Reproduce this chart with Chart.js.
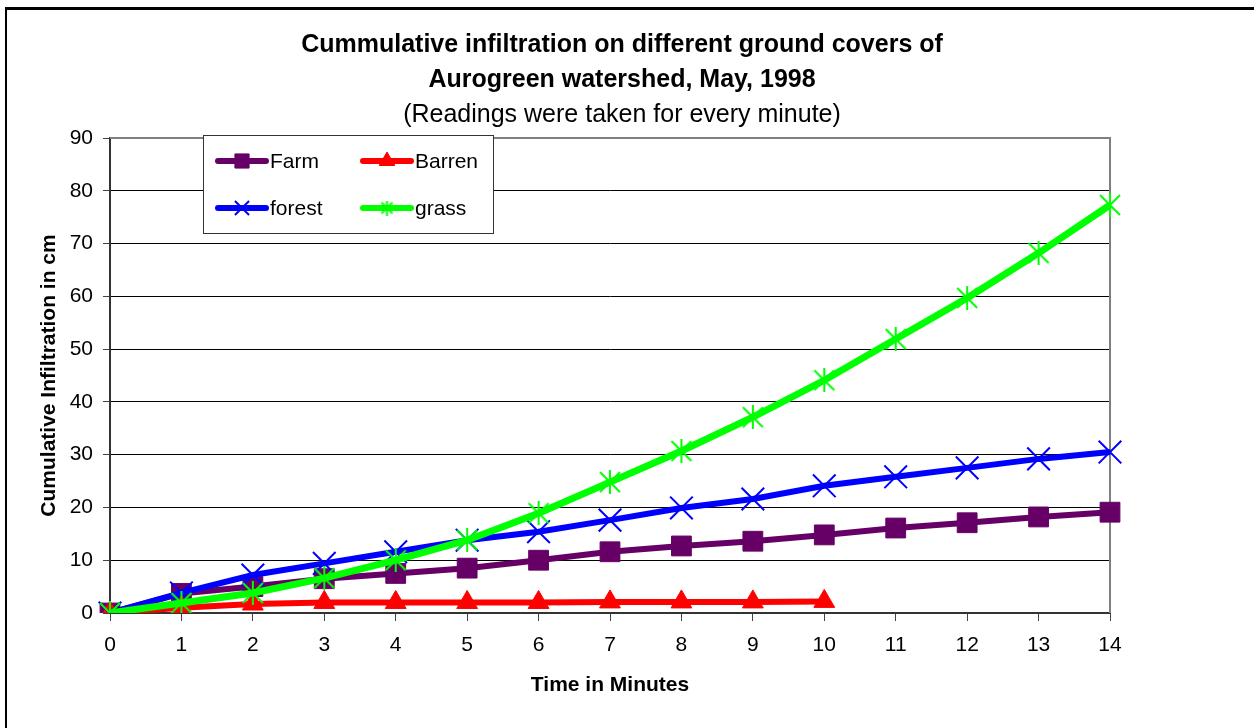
<!DOCTYPE html>
<html>
<head>
<meta charset="utf-8">
<script src="https://cdn.jsdelivr.net/npm/chart.js@4/dist/chart.umd.min.js"></script>
<style>
  html, body { margin: 0; padding: 0; background: #ffffff; }
  #wrap { width: 1254px; height: 728px; }
</style>
</head>
<body>
<div id="wrap"><canvas id="c" width="1254" height="728"></canvas></div>
<script>
// ---- data ----
const minutes = ['0','1','2','3','4','5','6','7','8','9','10','11','12','13','14'];
const farm   = [0, 3.7, 5.0, 6.5, 7.5, 8.5, 10.0, 11.6, 12.7, 13.6, 14.8, 16.1, 17.1, 18.2, 19.1];
const barren = [0, 1.0, 1.7, 2.0, 2.0, 2.0, 2.0, 2.1, 2.1, 2.1, 2.2];
const forest = [0, 3.8, 7.2, 9.4, 11.6, 13.8, 15.4, 17.6, 19.9, 21.6, 24.1, 25.8, 27.5, 29.2, 30.5];
const grass  = [0, 1.9, 3.8, 6.6, 10.0, 13.8, 18.9, 24.8, 30.7, 37.1, 44.1, 51.9, 59.7, 68.2, 77.3];
const seriesNames = ['Farm', 'Barren', 'forest', 'grass'];
const titleLines = ['Cummulative infiltration on different ground covers of', 'Aurogreen watershed, May, 1998'];
const subtitleText = '(Readings were taken for every minute)';
const xTitle = 'Time in Minutes';
const yTitle = 'Cumulative Infiltration in cm';

const FONT = "'Liberation Sans', Arial, Helvetica, sans-serif";

function makeAsterisk(size, color, lw) {
  const c = document.createElement('canvas');
  c.width = size; c.height = size;
  const g = c.getContext('2d');
  g.strokeStyle = color; g.lineWidth = lw; g.lineCap = 'butt';
  const m = 2;
  g.beginPath();
  g.moveTo(m, m); g.lineTo(size - m, size - m);
  g.moveTo(size - m, m); g.lineTo(m, size - m);
  g.moveTo(size / 2, 0); g.lineTo(size / 2, size);
  g.stroke();
  return c;
}
const starBig = makeAsterisk(24, '#00ff00', 2);
const starSmall = makeAsterisk(15, '#00ff00', 2);

const frameAndTitle = {
  id: 'frameAndTitle',
  beforeDraw(chart) {
    const ctx = chart.ctx;
    ctx.save();
    ctx.fillStyle = '#ffffff';
    ctx.fillRect(0, 0, chart.width, chart.height);
    ctx.strokeStyle = '#000000';
    ctx.lineWidth = 3;
    ctx.beginPath(); ctx.moveTo(5, 8.5); ctx.lineTo(chart.width, 8.5); ctx.stroke();
    ctx.lineWidth = 2;
    ctx.beginPath(); ctx.moveTo(6, 8); ctx.lineTo(6, chart.height); ctx.stroke();
    ctx.fillStyle = '#000000';
    ctx.textAlign = 'center';
    ctx.textBaseline = 'middle';
    ctx.font = 'bold 25px ' + FONT;
    ctx.fillText(titleLines[0], 622, 45);
    ctx.fillText(titleLines[1], 622, 80);
    ctx.font = '25px ' + FONT;
    ctx.fillText(subtitleText, 622, 115);
    ctx.restore();
  },
  beforeDatasetsDraw(chart) {
    const a = chart.chartArea, ctx = chart.ctx;
    ctx.save();
    ctx.strokeStyle = '#808080';
    ctx.lineWidth = 2;
    ctx.beginPath();
    ctx.moveTo(a.left, a.top); ctx.lineTo(a.right, a.top); ctx.lineTo(a.right, a.bottom);
    ctx.stroke();
    ctx.restore();
  }
};

const boxLegend = {
  id: 'boxLegend',
  afterDraw(chart) {
    const ctx = chart.ctx;
    ctx.save();
    ctx.fillStyle = '#ffffff';
    ctx.fillRect(203, 135, 290, 98);
    ctx.strokeStyle = '#333333';
    ctx.lineWidth = 1;
    ctx.strokeRect(203.5, 135.5, 290, 98);
    const spots = [[218, 161], [363, 161], [218, 208], [363, 208]];
    const markers = [
      {pointStyle: 'rect', radius: 10, borderWidth: 1},
      {pointStyle: 'triangle', radius: 9, borderWidth: 1},
      {pointStyle: 'crossRot', radius: 10, borderWidth: 2},
      {pointStyle: starSmall, radius: 8, borderWidth: 0}
    ];
    chart.data.datasets.forEach((ds, i) => {
      const [x, y] = spots[i];
      ctx.strokeStyle = ds.borderColor;
      ctx.fillStyle = ds.borderColor;
      ctx.lineWidth = 6;
      ctx.lineCap = 'round';
      ctx.beginPath(); ctx.moveTo(x, y); ctx.lineTo(x + 48, y); ctx.stroke();
      ctx.lineCap = 'butt';
      const m = markers[i];
      ctx.lineWidth = m.borderWidth;
      Chart.helpers.drawPoint(ctx, {pointStyle: m.pointStyle, radius: m.radius, rotation: 0, borderWidth: m.borderWidth}, x + 24, y);
      ctx.fillStyle = '#000000';
      ctx.font = '21px ' + FONT;
      ctx.textAlign = 'left';
      ctx.textBaseline = 'middle';
      ctx.fillText(ds.label, x + 52, y + 1);
    });
    ctx.restore();
  }
};

new Chart(document.getElementById('c'), {
  type: 'line',
  data: {
    labels: minutes,
    datasets: [
      { label: seriesNames[0], data: farm, borderColor: '#660066', backgroundColor: '#660066',
        borderWidth: 6, pointStyle: 'rect', pointRadius: 14, pointBorderWidth: 1, order: 3 },
      { label: seriesNames[1], data: barren, borderColor: '#ff0000', backgroundColor: '#ff0000',
        borderWidth: 6, pointStyle: 'triangle', pointRadius: 12, pointBorderWidth: 1, order: 2 },
      { label: seriesNames[2], data: forest, borderColor: '#0000ff', backgroundColor: '#0000ff',
        borderWidth: 6, pointStyle: 'crossRot', pointRadius: 16, pointBorderWidth: 2, order: 1 },
      { label: seriesNames[3], data: grass, borderColor: '#00ff00', backgroundColor: '#00ff00',
        borderWidth: 7, pointStyle: starBig, pointRadius: 12, pointBorderWidth: 2, order: 0 }
    ]
  },
  options: {
    responsive: false,
    animation: false,
    events: [],
    layout: { padding: { left: 33, right: 144, top: 138, bottom: 26 } },
    plugins: {
      legend: { display: false },
      title: { display: false },
      tooltip: { enabled: false }
    },
    elements: { line: { tension: 0 } },
    scales: {
      x: {
        type: 'category',
        offset: false,
        afterFit(s) { s.height = 89; },
        grid: { drawOnChartArea: false, tickLength: 8, tickColor: '#444444', lineWidth: 1 },
        border: { display: true, color: '#333333', width: 2 },
        ticks: { color: '#000000', font: { family: FONT, size: 21 }, padding: 12, maxRotation: 0, autoSkip: false },
        title: { display: true, text: xTitle, color: '#000000', font: { family: FONT, size: 21, weight: 'bold' } }
      },
      y: {
        min: 0, max: 90,
        afterFit(s) { s.width = 77; },
        grid: { color: '#000000', lineWidth: 1, tickLength: 7, tickColor: '#444444' },
        border: { display: true, color: '#333333', width: 2 },
        ticks: { stepSize: 10, color: '#000000', font: { family: FONT, size: 21 }, padding: 10 },
        title: { display: true, text: yTitle, color: '#000000', font: { family: FONT, size: 21, weight: 'bold' } }
      }
    }
  },
  plugins: [frameAndTitle, boxLegend]
});
</script>
</body>
</html>
